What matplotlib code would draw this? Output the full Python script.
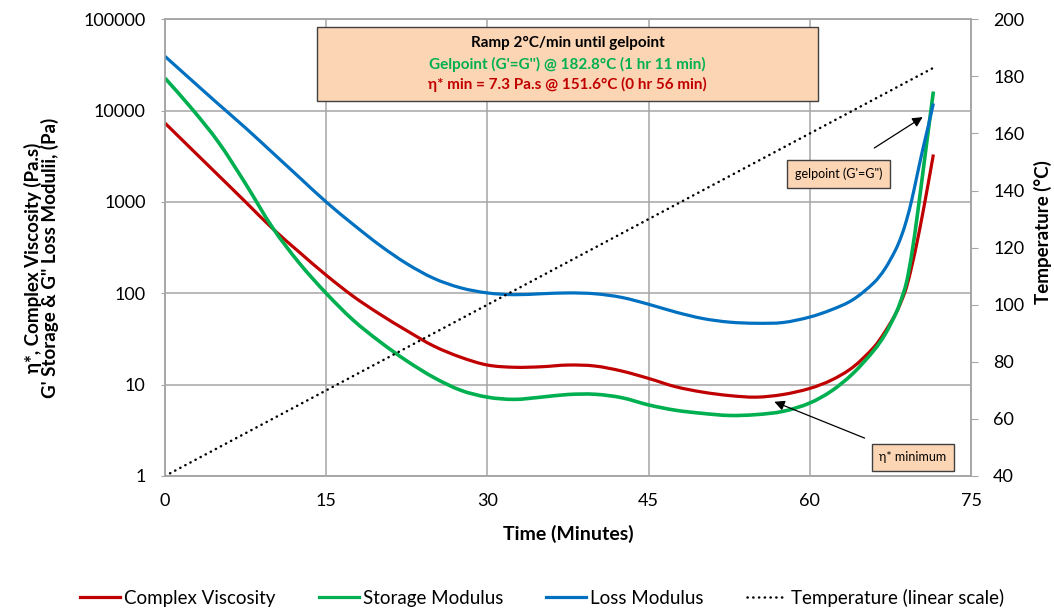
import matplotlib
matplotlib.use("Agg")
import numpy as np
import matplotlib.pyplot as plt
from matplotlib.ticker import FixedLocator, NullLocator, FixedFormatter
from matplotlib.patches import Rectangle, PathPatch
from matplotlib.path import Path
from matplotlib.lines import Line2D

plt.rcParams['font.family'] = ['Lato', 'DejaVu Sans']

# ---- data ----
time_min = [0, 2.5, 5, 7.5, 10, 12.5, 15, 17.5, 20, 22.5, 25, 27.5, 30, 32.5, 35,
            37.5, 40, 42.5, 45, 47.5, 50, 52.5, 55, 57.5, 60, 62, 64, 66, 67, 68,
            68.5, 69, 69.5, 70, 70.5, 71, 71.5]
complex_viscosity = [7300, 3760, 1940, 1000, 513, 282, 158, 93, 59, 39, 26.5, 20, 16.4,
                     15.5, 15.7, 16.4, 16.0, 14.1, 11.7, 9.5, 8.3, 7.6, 7.3, 7.8, 9.1,
                     11.2, 15.5, 26, 38, 60, 81, 117, 200, 372, 741, 1550, 3310]
storage_modulus = [22700, 10500, 4470, 1580, 525, 214, 100, 51, 29.5, 18.2, 12.0, 8.7,
                   7.3, 6.9, 7.3, 7.8, 7.85, 7.2, 6.0, 5.25, 4.85, 4.6, 4.7, 5.1, 6.3,
                   8.5, 13.2, 24, 35.5, 60, 85, 132, 275, 708, 2000, 5750, 16200]
loss_modulus = [39300, 21400, 11700, 6460, 3470, 1860, 1000, 569, 335, 211, 146, 115,
                101, 96.6, 98.9, 101, 98.9, 90.2, 75.9, 62.4, 53.1, 48.4, 47, 47.9, 55,
                66, 85, 132, 186, 302, 417, 631, 1070, 2000, 3720, 6610, 12000]
temp_time = [0, 71.4]
temperature = [40, 182.8]

x_ticks = [0, 15, 30, 45, 60, 75]
y_ticks = [1, 10, 100, 1000, 10000, 100000]
y_tick_labels = ["1", "10", "100", "1000", "10000", "100000"]
t_ticks = [40, 60, 80, 100, 120, 140, 160, 180, 200]

RED = "#C00000"
GREEN = "#00B050"
BLUE = "#0070C0"
GRID = "#A6A6A6"
PEACH = "#FCD5B4"


def smooth_path(xs, ys):
    """Bezier path through the data points (like a spreadsheet 'smoothed line'),
    control points computed in log space so the log axis renders it smoothly."""
    x = np.asarray(xs, float)
    ly = np.log10(np.asarray(ys, float))
    n = len(x)
    verts = [(x[0], 10 ** ly[0])]
    codes = [Path.MOVETO]
    for i in range(n - 1):
        i0 = max(i - 1, 0)
        i3 = min(i + 2, n - 1)
        h = x[i + 1] - x[i]
        m1 = (ly[i + 1] - ly[i0]) / (x[i + 1] - x[i0])
        m2 = (ly[i3] - ly[i]) / (x[i3] - x[i])
        c1 = (x[i] + h / 3, ly[i] + m1 * h / 3)
        c2 = (x[i + 1] - h / 3, ly[i + 1] - m2 * h / 3)
        verts += [(c1[0], 10 ** c1[1]), (c2[0], 10 ** c2[1]), (x[i + 1], 10 ** ly[i + 1])]
        codes += [Path.CURVE4] * 3
    return Path(verts, codes)


fig = plt.figure(figsize=(10.54, 6.12), dpi=100)
ax = fig.add_axes([165/1054, 1-476/612, 806/1054, 456.7/612])
ax.set_yscale('log')
ax.set_xlim(0, 75)
ax.set_ylim(1, 100000)

ax.grid(True, which='major', color=GRID, linewidth=1.1)
ax.set_axisbelow(True)

series = [(complex_viscosity, RED, 2.3, "Complex Viscosity"),
          (storage_modulus, GREEN, 2.6, "Storage Modulus"),
          (loss_modulus, BLUE, 2.3, "Loss Modulus")]
handles = []
for vals, col, lw, lab in series:
    ax.add_patch(PathPatch(smooth_path(time_min, vals), fill=False, edgecolor=col,
                           lw=lw, capstyle='butt', zorder=3))
    handles.append(Line2D([], [], color=col, lw=2.3, label=lab))

ax.xaxis.set_major_locator(FixedLocator(x_ticks))
ax.yaxis.set_major_locator(FixedLocator(y_ticks))
ax.yaxis.set_major_formatter(FixedFormatter(y_tick_labels))
ax.yaxis.set_minor_locator(NullLocator())
ax.tick_params(axis='y', which='both', length=3, color=GRID, pad=11, labelsize=13)
ax.tick_params(axis='x', length=0, pad=12, labelsize=13)
for sp in ax.spines.values():
    sp.set_color(GRID)
    sp.set_linewidth(1.1)

ax.set_xlabel("Time (Minutes)", fontsize=14, fontweight='bold', labelpad=12)
ax.set_ylabel("η*, Complex Viscosity (Pa.s)\nG' Storage & G\" Loss Modulii, (Pa)",
              fontsize=13.5, fontweight='bold', linespacing=0.95)
ax.yaxis.set_label_coords(-0.131, 0.478)

ax2 = ax.twinx()
ax2.set_ylim(40, 200)
l4, = ax2.plot(temp_time, temperature, color='black', lw=1.8,
               linestyle=(0, (0.1, 2.2)), dash_capstyle='round',
               label="Temperature (linear scale)")
handles.append(l4)
ax2.yaxis.set_major_locator(FixedLocator(t_ticks))
ax2.tick_params(axis='y', length=5, color=GRID, pad=11, labelsize=13)
for sp in ax2.spines.values():
    sp.set_color(GRID)
    sp.set_linewidth(1.1)
ax2.set_ylabel("Temperature (°C)", fontsize=13.5, fontweight='bold')
ax2.yaxis.set_label_coords(1.078, 0.535)

# ---- info box ----
box = Rectangle((152/806, (476-101)/456.7), 501/806, 74/456.7, transform=ax2.transAxes,
                facecolor=PEACH, edgecolor='#404040', lw=1.0, zorder=10)
ax2.add_patch(box)
cx = (567.5-165)/806
ax2.text(cx, (476-43)/456.7, "Ramp 2°C/min until gelpoint", transform=ax2.transAxes,
         ha='center', va='center', fontsize=11, fontweight='bold', color='black', zorder=11)
ax2.text(cx, (476-64)/456.7, "Gelpoint (G'=G'') @ 182.8°C (1 hr 11 min)", transform=ax2.transAxes,
         ha='center', va='center', fontsize=11, fontweight='bold', color=GREEN, zorder=11)
ax2.text(cx, (476-84)/456.7, "η* min = 7.3 Pa.s @ 151.6°C (0 hr 56 min)", transform=ax2.transAxes,
         ha='center', va='center', fontsize=11, fontweight='bold', color=RED, zorder=11)

# ---- annotations ----
arrow_kw = dict(arrowstyle='-|>', color='black', lw=0.9, mutation_scale=15, shrinkA=0, shrinkB=0)
ax2.annotate("", xy=(70.5, 8500), xycoords=ax.transData,
             xytext=(66.0, 3900), textcoords=ax.transData, arrowprops=arrow_kw, zorder=12)
ax2.annotate("", xy=(56.7, 6.5), xycoords=ax.transData,
             xytext=(65.1, 2.6), textcoords=ax.transData, arrowprops=arrow_kw, zorder=12)
ax2.text(62.65, 2030, "gelpoint (G'=G\")", transform=ax.transData, ha='center', va='center',
         fontsize=9, zorder=12,
         bbox=dict(boxstyle='square,pad=0.6', facecolor=PEACH, edgecolor='#404040', lw=1.0))
ax2.text(69.6, 1.6, "η* minimum", transform=ax.transData, ha='center', va='center',
         fontsize=9, zorder=12,
         bbox=dict(boxstyle='square,pad=0.6', facecolor=PEACH, edgecolor='#404040', lw=1.0))

# ---- legend ----
fig.legend(handles=handles, loc='center', bbox_to_anchor=(542/1054, 1-598/612),
           ncol=4, frameon=False, fontsize=13.5, handlelength=2.15, handletextpad=0.2,
           columnspacing=2.3)

fig.savefig("out.png", dpi=100)
